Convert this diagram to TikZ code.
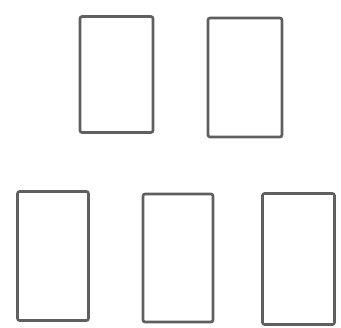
\documentclass[tikz,border=0pt]{standalone}
\definecolor{boxgray}{RGB}{95,95,95}
\begin{document}
\begin{tikzpicture}[x=1pt,y=-1pt,
  card/.style={draw=boxgray,line width=2.6pt,rounded corners=2pt,inner sep=0pt,fill=white}]
\useasboundingbox (0,0) rectangle (341,328);
\node[card,minimum width=73pt,minimum height=116pt] (a) at (116.5,74.5) {};
\node[card,minimum width=74pt,minimum height=119pt] (b) at (245,77.5) {};
\node[card,minimum width=71pt,minimum height=129pt] (c) at (53,256) {};
\node[card,minimum width=70pt,minimum height=128pt] (d) at (178,258) {};
\node[card,minimum width=72pt,minimum height=131pt] (e) at (298.5,259) {};
\end{tikzpicture}
\end{document}
